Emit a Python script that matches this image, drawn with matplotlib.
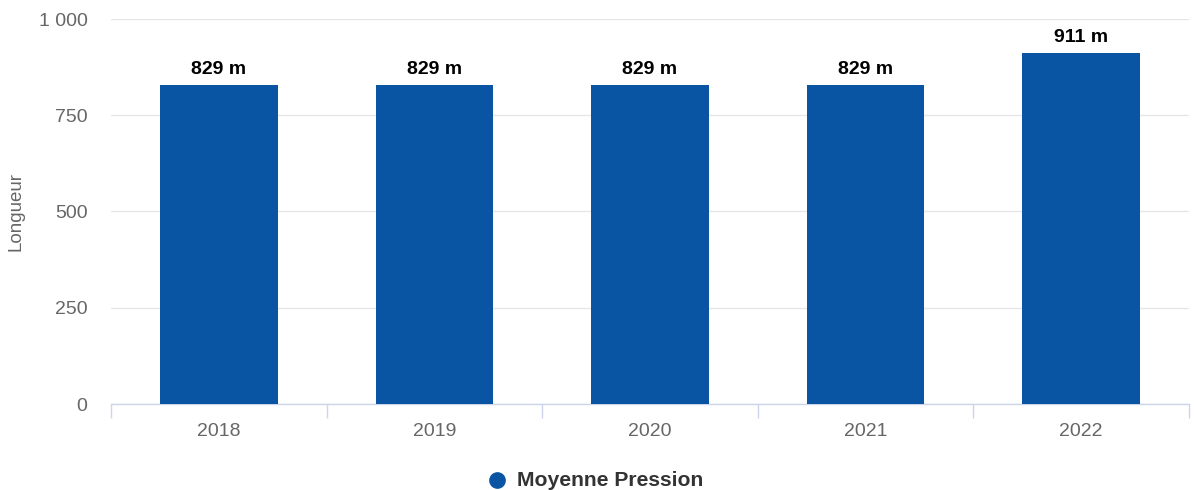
import matplotlib
matplotlib.use("Agg")
import matplotlib.pyplot as plt
from matplotlib.lines import Line2D
import numpy as np

categories = ["2018", "2019", "2020", "2021", "2022"]
values = [829, 829, 829, 829, 911]
labels = ["829 m", "829 m", "829 m", "829 m", "911 m"]
yticks = [0, 250, 500, 750, 1000]
ytick_labels = ["0", "250", "500", "750", "1 000"]
series_name = "Moyenne Pression"

plt.rcParams['font.family'] = ['Liberation Sans', 'DejaVu Sans']

fig = plt.figure(figsize=(11.94, 4.9), dpi=100)
ax = fig.add_axes([111/1194, 1-404/490, (1189-111)/1194, (404-19)/490])

color = "#0a55a3"
x = np.arange(len(categories))
ax.bar(x, values, width=0.545, color=color, zorder=3)
for xi, v, lab in zip(x, values, labels):
    ax.annotate(lab, (xi, v), xytext=(0, 5), textcoords="offset points",
                ha="center", va="bottom", fontsize=14, fontweight="bold", color="#000000")

ax.set_xlim(-0.5, len(categories) - 0.5)
ax.set_ylim(0, 1000)
ax.set_yticks(yticks)
ax.set_yticklabels(ytick_labels)
ax.yaxis.grid(True, color="#e6e6e6", linewidth=1, zorder=0)
ax.tick_params(axis="y", length=0, labelsize=14, labelcolor="#666666", pad=17)

ax.set_xticks(x)
ax.set_xticklabels(categories)
ax.tick_params(axis="x", which="major", length=0, labelsize=14, labelcolor="#666666", pad=13.5)
ax.set_xticks(np.arange(-0.5, len(categories)), minor=True)
ax.tick_params(axis="x", which="minor", length=10, color="#ccd6eb", width=1)

for s in ["top", "right", "left"]:
    ax.spines[s].set_visible(False)
ax.spines["bottom"].set_color("#ccd6eb")
ax.spines["bottom"].set_linewidth(1)

ax.set_ylabel("Longueur", fontsize=13.5, color="#666666")
ax.yaxis.set_label_coords(-(111-16)/1078, 0.5)
ax.yaxis.label.set_va("center")

fig.add_artist(Line2D([497/1194], [1-480/490], marker="o", markersize=11,
                      color=color, linestyle="none", transform=fig.transFigure))
fig.text(517/1194, 1-480/490, series_name, ha="left", va="center", fontsize=15.2,
         fontweight="bold", color="#333333")

fig.savefig("out.png", dpi=100)
